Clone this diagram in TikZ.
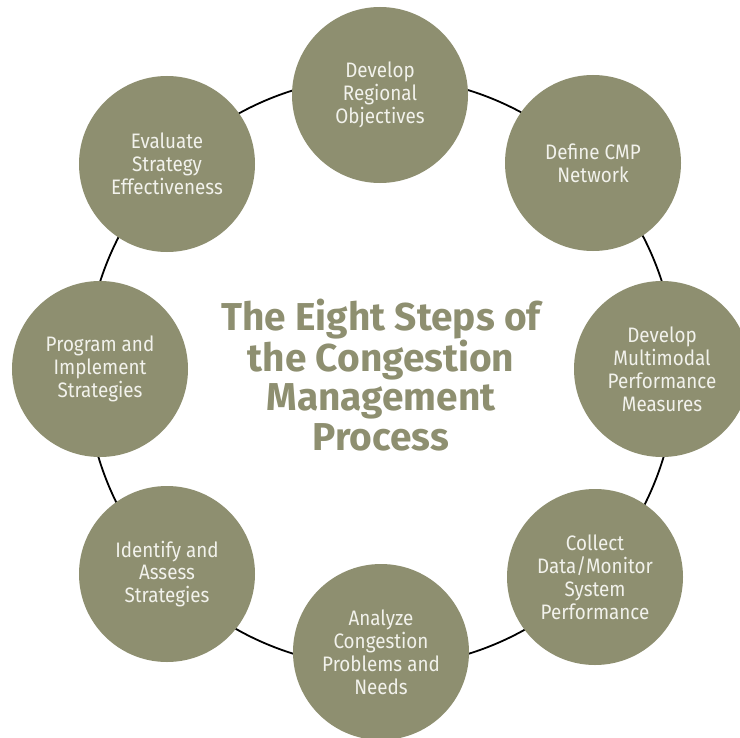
\documentclass[tikz,border=0pt]{standalone}
\usepackage{fontspec}
\setmainfont{Fira Sans}
\newfontfamily\stepfont[FakeStretch=0.9]{Fira Sans}
\definecolor{olivefill}{RGB}{142,143,112}
\definecolor{steptext}{RGB}{242,242,236}
\begin{document}
\begin{tikzpicture}[x=1bp,y=-1bp,
  stepcircle/.style={circle, fill=olivefill, minimum size=176bp, inner sep=0pt,
    text=steptext, align=center, font=\stepfont\fontsize{21}{23}\selectfont},
  ringline/.style={draw=black, line width=1.8bp},
  titletext/.style={text=olivefill, align=center, font=\bfseries\fontsize{39}{40}\selectfont}]
\useasboundingbox (0,0) rectangle (740,738);
\clip (0,0) rectangle (740,738);
\fill[white] (0,0) rectangle (740,738);
\coordinate (hub) at (381,372);
\draw[ringline] (hub) circle [radius=295];
\node[stepcircle] (n1) at (380,95) {Develop\\Regional\\Objectives};
\node[stepcircle] (n2) at (593,163) {Define CMP\\Network};
\node[stepcircle] (n3) at (662,369) {Develop\\Multimodal\\Performance\\Measures};
\node[stepcircle] (n4) at (595,577) {Collect\\Data/Monitor\\System\\Performance};
\node[stepcircle] (n5) at (381,652) {Analyze\\Congestion\\Problems and\\Needs};
\node[stepcircle] (n6) at (167,574) {Identify and\\Assess\\Strategies};
\node[stepcircle] (n7) at (100,369) {Program and\\Implement\\Strategies};
\node[stepcircle] (n8) at (167,164) {Evaluate\\Strategy\\Effectiveness};
\node[titletext] (title) at (381,375) {The Eight Steps of\\the Congestion\\Management\\Process};
\end{tikzpicture}
\end{document}
